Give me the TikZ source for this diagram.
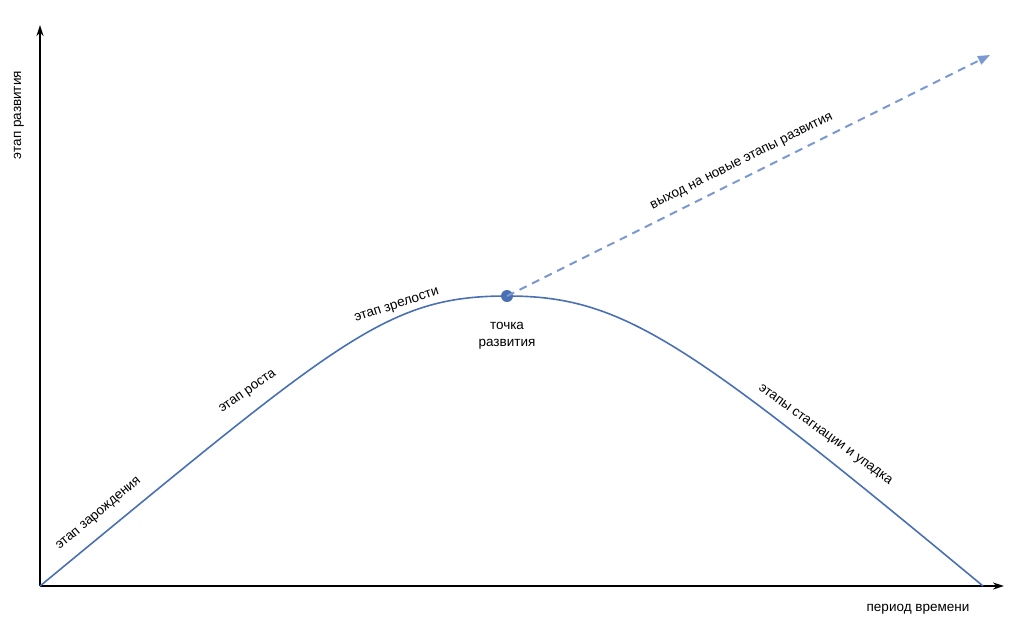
\documentclass[tikz,border=0pt]{standalone}
\usepackage{fontspec}
\setmainfont{Liberation Sans}
\usetikzlibrary{arrows.meta}
\definecolor{curveblue}{HTML}{4A70B4}
\definecolor{dashblue}{HTML}{7B98D2}
\begin{document}
\begin{tikzpicture}[x=1pt,y=-1pt,
  axis/.style={line width=2pt,-{Stealth[length=11pt,width=7pt]}},
  curveline/.style={line width=1.6pt,curveblue},
  newline/.style={line width=2pt,dashblue,dash pattern=on 8pt off 6pt,-{Triangle[length=12pt,width=9pt]}},
  lbl/.style={font=\fontsize{13.5}{16.5}\selectfont,inner sep=1pt,align=center}]
\useasboundingbox (0,0) rectangle (1024,627);
\coordinate (O) at (40,586);
\coordinate (Ytop) at (40,25);
\coordinate (Xend) at (1004,586);
\coordinate (E) at (983,586);
\coordinate (N) at (990,55);
\node[circle,fill=curveblue,minimum size=12pt,inner sep=0pt] (peak) at (507,296) {};
\draw[axis] (O) -- (Ytop);
\draw[axis] (O) -- (Xend);
\draw[curveline] (O) .. controls (340,339) and (387,296) .. (peak.center)
  .. controls (622,296) and (685,339) .. (E);
\draw[newline] (peak.center) -- (N);
\node[lbl,rotate=90] (ylab) at (19,115) {этап развития};
\node[lbl] (xlab) at (918,609) {период времени};
\node[lbl,rotate=40] (l1) at (99,514) {этап зарождения};
\node[lbl,rotate=35] (l2) at (248,392) {этап роста};
\node[lbl,rotate=18] (l3) at (397,306) {этап зрелости};
\node[lbl] (l4) at (507,336) {точка\\развития};
\node[lbl,rotate=26.5] (l5) at (742,162) {выход на новые этапы развития};
\node[lbl,rotate=-36] (l6) at (825,435) {этапы стагнации и упадка};
\end{tikzpicture}
\end{document}
